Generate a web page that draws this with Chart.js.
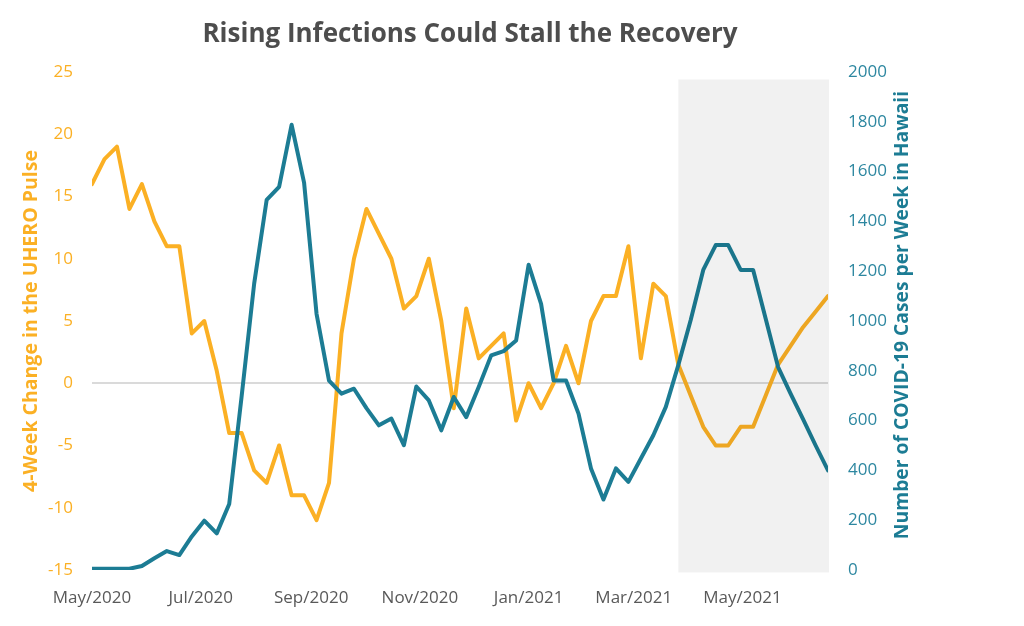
<!DOCTYPE html>
<html>
<head>
<meta charset="utf-8">
<title>Rising Infections Could Stall the Recovery</title>
<script src="https://cdn.jsdelivr.net/npm/chart.js@4.4.1/dist/chart.umd.min.js"></script>
<style>
  html, body { margin: 0; padding: 0; background: #fff; }
</style>
</head>
<body>
<canvas id="pulseChart" width="1024" height="626"></canvas>
<script>
// weekly observations, May 2020 - June 2021
var weeks = [
  '2020-05-01','2020-05-08','2020-05-15','2020-05-22','2020-05-29',
  '2020-06-05','2020-06-12','2020-06-19','2020-06-26',
  '2020-07-03','2020-07-10','2020-07-17','2020-07-24','2020-07-31',
  '2020-08-07','2020-08-14','2020-08-21','2020-08-28',
  '2020-09-04','2020-09-11','2020-09-18','2020-09-25',
  '2020-10-02','2020-10-09','2020-10-16','2020-10-23','2020-10-30',
  '2020-11-06','2020-11-13','2020-11-20','2020-11-27',
  '2020-12-04','2020-12-11','2020-12-18','2020-12-25',
  '2021-01-01','2021-01-08','2021-01-15','2021-01-22','2021-01-29',
  '2021-02-05','2021-02-12','2021-02-19','2021-02-26',
  '2021-03-05','2021-03-12','2021-03-19','2021-03-26',
  '2021-04-02','2021-04-09','2021-04-16','2021-04-23','2021-04-30',
  '2021-05-07','2021-05-14','2021-05-21','2021-05-28',
  '2021-06-04','2021-06-11','2021-06-18'
];

// 4-week change in the UHERO pulse (left axis)
var pulseChange = [
  16, 18, 19, 14, 16, 13, 11, 11, 4, 5,
  1, -4, -4, -7, -8, -5, -9, -9, -11, -8,
  4, 10, 14, 12, 10, 6, 7, 10, 5, -2,
  6, 2, 3, 4, -3, 0, -2, 0, 3, 0,
  5, 7, 7, 11, 2, 8, 7, 1.5, -1, -3.5,
  -5, -5, -3.5, -3.5, -1, 1.5, 3, 4.5, 5.75, 7
];

// weekly COVID-19 cases in Hawaii (right axis)
var weeklyCases = [
  5, 5, 5, 5, 16, 47, 76, 60, 135, 198,
  147, 265, 700, 1150, 1486, 1539, 1788, 1556, 1029, 761,
  708, 728, 650, 581, 608, 501, 737, 681, 561, 695,
  614, 735, 862, 879, 922, 1226, 1069, 761, 761, 628,
  408, 283, 408, 354, 448, 541, 655, 823, 1005, 1205,
  1305, 1305, 1205, 1205, 1010, 815, 708, 606, 501, 400
];

var tickDates = ['2020-05-01','2020-07-01','2020-09-01','2020-11-01','2021-01-01','2021-03-01','2021-05-01'];
var tickLabels = ['May/2020','Jul/2020','Sep/2020','Nov/2020','Jan/2021','Mar/2021','May/2021'];
var forecastStart = '2021-03-26';

var chartTitle = 'Rising Infections Could Stall the Recovery';
var leftTitle = '4-Week Change in the UHERO Pulse';
var rightTitle = 'Number of COVID-19 Cases per Week in Hawaii';

var ORANGE = '#fbb024';
var TEAL = '#1c7c94';

function dayNum(s) {
  return Math.round((Date.parse(s) - Date.parse(weeks[0])) / 86400000);
}
var tickDays = tickDates.map(dayNum);

// shaded forecast band (drawn over the lines) + titles
var extras = {
  id: 'extras',
  afterDatasetsDraw: function(chart) {
    var ctx = chart.ctx, x = chart.scales.x, yL = chart.scales.yL;
    var x0 = x.getPixelForValue(dayNum(forecastStart));
    var x1 = x.getPixelForValue(dayNum(weeks[weeks.length - 1]));
    var top = yL.getPixelForValue(24.4), bottom = yL.getPixelForValue(-15.2);
    ctx.save();
    ctx.fillStyle = 'rgba(0,0,0,0.055)';
    ctx.fillRect(x0, top, x1 - x0 + 1, bottom - top);
    ctx.restore();
  },
  afterDraw: function(chart) {
    var ctx = chart.ctx;
    ctx.save();
    ctx.font = 'bold 26px "Open Sans"';
    ctx.fillStyle = '#4d4d4d';
    ctx.textAlign = 'center';
    ctx.textBaseline = 'alphabetic';
    ctx.fillText(chartTitle, 470, 42);

    // right axis title reads bottom-to-top
    ctx.translate(903, 315);
    ctx.rotate(-Math.PI / 2);
    ctx.font = 'bold 19.3px "Open Sans"';
    ctx.fillStyle = TEAL;
    ctx.textBaseline = 'middle';
    ctx.fillText(rightTitle, 0, 0);
    ctx.restore();
  }
};

var ctxPulse = document.getElementById('pulseChart').getContext('2d');
var pulseChart = new Chart(ctxPulse, {
  type: 'line',
  data: {
    datasets: [{
      label: 'Weekly cases',
      data: weeks.map(function(w, i) { return { x: dayNum(w), y: weeklyCases[i] }; }),
      yAxisID: 'yR',
      borderColor: TEAL,
      borderWidth: 4,
      order: 0
    }, {
      label: 'UHERO Pulse change',
      data: weeks.map(function(w, i) { return { x: dayNum(w), y: pulseChange[i] }; }),
      yAxisID: 'yL',
      borderColor: ORANGE,
      borderWidth: 4,
      order: 1
    }]
  },
  options: {
    responsive: false,
    animation: false,
    layout: { padding: { top: 72, left: 0, right: 0, bottom: 0 } },
    elements: {
      point: { radius: 0 },
      line: { tension: 0, borderJoinStyle: 'round', borderCapStyle: 'round', fill: false }
    },
    plugins: {
      legend: { display: false },
      tooltip: { enabled: false }
    },
    scales: {
      x: {
        type: 'linear',
        min: 0,
        max: dayNum(weeks[weeks.length - 1]),
        afterBuildTicks: function(s) {
          s.ticks = tickDays.map(function(d) { return { value: d }; });
        },
        afterFit: function(s) { s.height = 56; },
        grid: { display: false, drawTicks: false },
        border: { display: false },
        ticks: {
          autoSkip: false,
          maxRotation: 0,
          padding: 18,
          color: '#595959',
          font: { family: 'Open Sans', size: 17 },
          callback: function(v) { return tickLabels[tickDays.indexOf(v)]; }
        }
      },
      yL: {
        position: 'left',
        min: -15,
        max: 25,
        afterFit: function(s) { s.width = 92; },
        border: { display: false },
        grid: {
          drawTicks: false,
          lineWidth: 2,
          color: function(c) { return c.tick && c.tick.value === 0 ? '#dadada' : 'rgba(0,0,0,0)'; }
        },
        ticks: {
          stepSize: 5,
          padding: 19,
          color: ORANGE,
          font: { family: 'Open Sans', size: 17 }
        },
        title: {
          display: true,
          text: leftTitle,
          color: ORANGE,
          padding: { top: 20, bottom: 0 },
          font: { family: 'Open Sans', size: 19.5, weight: 'bold' }
        }
      },
      yR: {
        position: 'right',
        min: 0,
        max: 2000,
        afterFit: function(s) { s.width = 196; },
        border: { display: false },
        grid: { display: false, drawTicks: false },
        ticks: {
          stepSize: 200,
          padding: 20,
          color: '#2d87a0',
          font: { family: 'Open Sans', size: 17 },
          callback: function(v) { return String(v); }
        }
      }
    }
  },
  plugins: [extras]
});
</script>
</body>
</html>
